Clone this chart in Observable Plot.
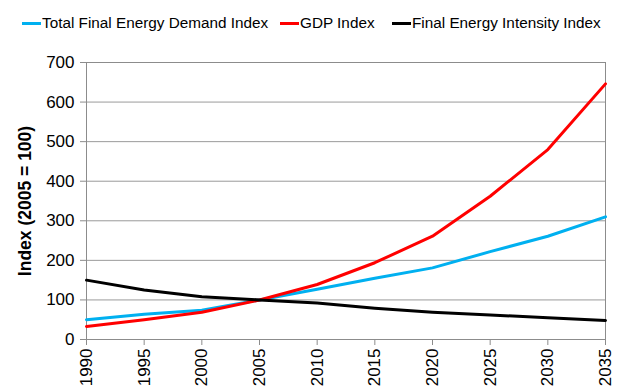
<!DOCTYPE html>
<html>
<head>
<meta charset="utf-8">
<script src="https://cdn.jsdelivr.net/npm/d3@7"></script>
<script src="https://cdn.jsdelivr.net/npm/@observablehq/plot@0.6"></script>
<style>
  body { margin: 0; background: #fff; font-family: "Liberation Sans", Arial, sans-serif; }
  #legend { position: relative; height: 44px; width: 617px; font-size: 15.3px; color: #000; }
  .item { position: absolute; top: 14px; display: flex; align-items: center; white-space: nowrap; }
  .sw { display: inline-block; width: 19px; height: 3px; margin-right: 1px; }
</style>
</head>
<body>
<div id="legend"></div>
<div id="chart"></div>
<script>
const years = [1990, 1995, 2000, 2005, 2010, 2015, 2020, 2025, 2030, 2035];
const demand = [50, 64, 74, 100, 127, 155, 181, 222, 261, 310];
const gdp = [33, 50, 69, 100, 139, 194, 261, 362, 480, 646];
const intensity = [150, 125, 108, 100, 92, 79, 69, 62, 55, 48];
const seriesNames = ["Total Final Energy Demand Index", "GDP Index", "Final Energy Intensity Index"];
const seriesColors = ["#00b0f0", "#ff0000", "#000000"];
const yTicks = [0, 100, 200, 300, 400, 500, 600, 700];
const yTitle = "Index (2005 = 100)";

const seriesValues = [demand, gdp, intensity];
const rows = [];
seriesNames.forEach((name, i) => {
  years.forEach((yr, j) => rows.push({ series: name, year: yr, value: seriesValues[i][j] }));
});

// legend
const legendLeft = [22, 280, 392];
const legend = document.getElementById("legend");
seriesNames.forEach((name, i) => {
  const it = document.createElement("div");
  it.className = "item";
  it.style.left = legendLeft[i] + "px";
  const sw = document.createElement("span");
  sw.className = "sw";
  sw.style.background = seriesColors[i];
  const tx = document.createElement("span");
  tx.textContent = name;
  it.appendChild(sw);
  it.appendChild(tx);
  legend.appendChild(it);
});

const chart = Plot.plot({
  width: 617,
  height: 348,
  marginTop: 18,
  marginBottom: 53,
  marginLeft: 86,
  marginRight: 12,
  style: { fontFamily: "'Liberation Sans', Arial, sans-serif", background: "#fff", overflow: "visible" },
  x: { domain: [1990, 2035] },
  y: { domain: [0, 700] },
  color: { domain: seriesNames, range: seriesColors },
  marks: [
    Plot.ruleY(yTicks.slice(1), { stroke: "#9a9a9a", strokeWidth: 1, strokeOpacity: 1 }),
    Plot.frame({ stroke: "#8c8c8c", strokeWidth: 1 }),
    Plot.axisY({
      ticks: yTicks, tickSize: 6, tickPadding: 6, fontSize: 17, stroke: "#8c8c8c",
      label: yTitle, labelAnchor: "center", labelOffset: 68, labelArrow: "none"
    }),
    Plot.axisX({
      ticks: years, tickFormat: d => String(d), tickSize: 6, tickPadding: 3, fontSize: 17,
      tickRotate: -90, stroke: "#8c8c8c", label: null
    }),
    Plot.line(rows, { x: "year", y: "value", z: "series", stroke: "series", strokeWidth: 3, curve: "linear" })
  ]
});
document.getElementById("chart").appendChild(chart);
// bold y axis title
chart.querySelectorAll("g[aria-label='y-axis label'] text").forEach(t => { t.setAttribute("font-weight", "bold"); t.setAttribute("font-size", 17.5); });
</script>
</body>
</html>
